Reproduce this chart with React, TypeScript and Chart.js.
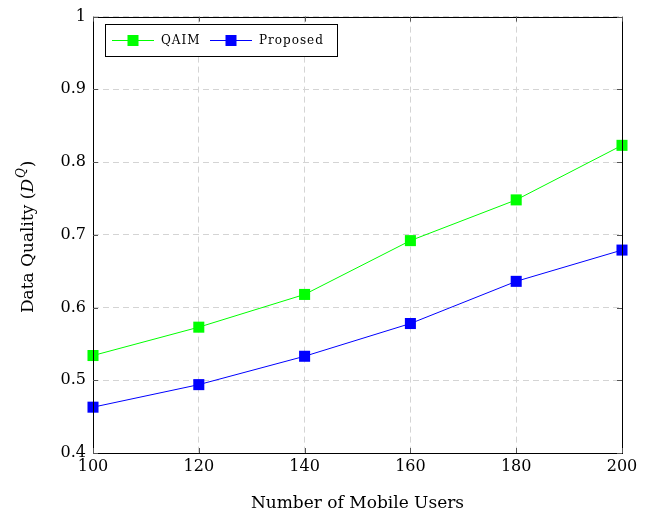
import React, { useEffect, useRef } from "react";
import { Chart, registerables } from "chart.js";

Chart.register(...registerables);

const users = [100, 120, 140, 160, 180, 200];
const qaim = [0.534, 0.573, 0.618, 0.692, 0.748, 0.823];
const proposed = [0.463, 0.494, 0.533, 0.578, 0.636, 0.679];
const seriesNames = ["QAIM", "Proposed"];
const seriesColors = ["#00ff00", "#0000ff"];
const xTitle = "Number of Mobile Users";
const yTitleMain = "Data Quality (";
const yTitleD = "D";
const yTitleQ = "Q";
const yTitleEnd = ")";

const FONT = "'DejaVu Serif', serif";

const framePlugin = {
  id: "frame",
  afterDraw(chart: any) {
    const { ctx, chartArea: a, scales } = chart;
    ctx.save();
    ctx.strokeStyle = "#000";
    ctx.lineWidth = 1;
    ctx.setLineDash([]);
    ctx.strokeRect(Math.round(a.left) + 0.5, Math.round(a.top) + 0.5, Math.round(a.right - a.left), Math.round(a.bottom - a.top));
    ctx.strokeStyle = "#555";
    const tl = 5;
    scales.x.ticks.forEach((t: any) => {
      const px = Math.round(scales.x.getPixelForValue(t.value)) + 0.5;
      ctx.beginPath();
      ctx.moveTo(px, a.bottom);
      ctx.lineTo(px, a.bottom - tl);
      ctx.moveTo(px, a.top);
      ctx.lineTo(px, a.top + tl);
      ctx.stroke();
    });
    scales.y.ticks.forEach((t: any) => {
      const py = Math.round(scales.y.getPixelForValue(t.value)) + 0.5;
      ctx.beginPath();
      ctx.moveTo(a.left, py);
      ctx.lineTo(a.left + tl, py);
      ctx.moveTo(a.right, py);
      ctx.lineTo(a.right - tl, py);
      ctx.stroke();
    });

    // x title
    ctx.fillStyle = "#000";
    ctx.font = `17px ${FONT}`;
    ctx.textAlign = "center";
    ctx.textBaseline = "middle";
    ctx.fillText(xTitle, (a.left + a.right) / 2, 504);

    // y title with superscript
    ctx.save();
    ctx.translate(27, (a.top + a.bottom) / 2 + 2);
    ctx.rotate(-Math.PI / 2);
    ctx.textBaseline = "alphabetic";
    ctx.textAlign = "left";
    const f1 = `17px ${FONT}`;
    const f2 = `italic 17px ${FONT}`;
    const f3 = `italic 12px ${FONT}`;
    ctx.font = f1;
    const w1 = ctx.measureText(yTitleMain).width;
    ctx.font = f2;
    const w2 = ctx.measureText(yTitleD).width + 1;
    ctx.font = f3;
    const w3 = ctx.measureText(yTitleQ).width + 1;
    ctx.font = f1;
    const w4 = ctx.measureText(yTitleEnd).width;
    let x = -(w1 + w2 + w3 + w4) / 2;
    const base = 6;
    ctx.font = f1;
    ctx.fillText(yTitleMain, x, base);
    x += w1;
    ctx.font = f2;
    ctx.fillText(yTitleD, x, base);
    x += w2;
    ctx.font = f3;
    ctx.fillText(yTitleQ, x, base - 8);
    x += w3;
    ctx.font = f1;
    ctx.fillText(yTitleEnd, x, base);
    ctx.restore();

    // legend
    const lx = 105, ly = 24, lw = 232, lh = 32;
    ctx.fillStyle = "#fff";
    ctx.fillRect(lx, ly, lw, lh);
    ctx.strokeStyle = "#000";
    ctx.strokeRect(lx + 0.5, ly + 0.5, lw, lh);
    ctx.font = `12px ${FONT}`;
    (ctx as any).letterSpacing = "1px";
    ctx.textAlign = "left";
    ctx.textBaseline = "middle";
    const starts = [112, 210];
    const cy = ly + lh / 2;
    chart.data.datasets.forEach((ds: any, i: number) => {
      const cx = starts[i];
      ctx.strokeStyle = ds.borderColor;
      ctx.lineWidth = 1;
      ctx.beginPath();
      ctx.moveTo(cx, cy + 0.5);
      ctx.lineTo(cx + 42, cy + 0.5);
      ctx.stroke();
      ctx.fillStyle = ds.backgroundColor;
      ctx.fillRect(cx + 21 - 5.5, cy - 5, 11, 11);
      ctx.fillStyle = "#000";
      ctx.fillText(ds.label, cx + 49, cy + 1);
    });
    (ctx as any).letterSpacing = "0px";
    ctx.restore();
  },
};

export default function App() {
  const ref = useRef<HTMLCanvasElement>(null);
  useEffect(() => {
    document.body.style.margin = "0";
    const mk = (i: number, vals: number[]) => ({
      label: seriesNames[i],
      data: users.map((u, k) => ({ x: u, y: vals[k] })),
      borderColor: seriesColors[i],
      backgroundColor: seriesColors[i],
      borderWidth: 1,
      pointStyle: "rect",
      pointRadius: 7.8,
      pointBorderWidth: 0,
      clip: false,
    });
    const chart = new Chart(ref.current!, {
      type: "line",
      data: {
        datasets: [mk(0, qaim), mk(1, proposed)],
      },
      options: {
        animation: false,
        responsive: false,
        layout: { padding: { top: 15, right: 24, left: 0, bottom: 0 } },
        plugins: { legend: { display: false }, tooltip: { enabled: false } },
        scales: {
          x: {
            type: "linear",
            min: 100,
            max: 200,
            afterFit: (s: any) => { s.height = 64; },
            ticks: { stepSize: 20, color: "#000", font: { family: FONT, size: 16 }, padding: 4 },
            border: { display: false, dash: [6, 4] },
            grid: { color: "#d4d4d4", drawTicks: false, tickLength: 0 },
          },
          y: {
            min: 0.4,
            max: 1,
            afterFit: (s: any) => { s.width = 93; },
            ticks: {
              stepSize: 0.1,
              color: "#000",
              font: { family: FONT, size: 16 },
              padding: 7,
              callback: (v: any) => (Math.abs(v - 1) < 1e-9 ? "1" : Number(v).toFixed(1)),
            },
            border: { display: false, dash: [6, 4] },
            grid: { color: "#d4d4d4", drawTicks: false, tickLength: 0 },
          },
        },
      },
      plugins: [framePlugin],
    } as any);
    return () => chart.destroy();
  }, []);
  return (
    <div style={{ width: 646, height: 517 }}>
      <canvas ref={ref} width={646} height={517} style={{ display: "block" }} />
    </div>
  );
}
